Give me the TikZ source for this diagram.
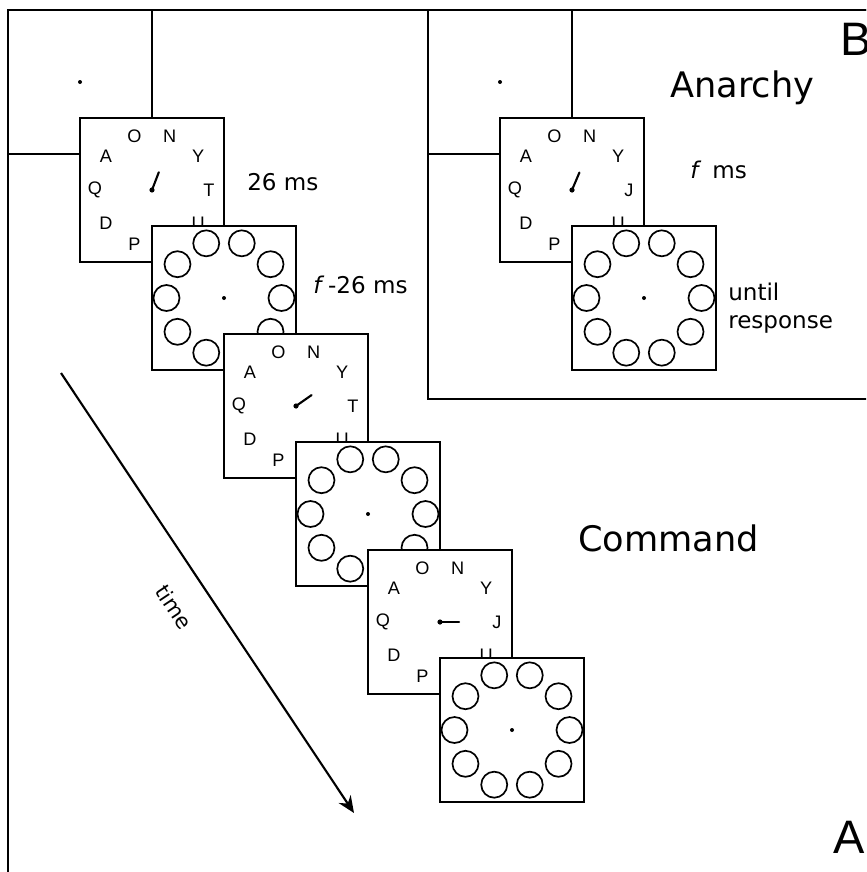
\documentclass[tikz,border=0pt]{standalone}
\usepackage{fontspec}
\setmainfont{DejaVu Sans}
\newfontfamily\clockfont{Liberation Sans}
\usetikzlibrary{arrows.meta,calc}
\tikzset{
  frame/.style={line width=1.5pt, fill=white},
  ring/.style={line width=1.2pt},
  hand/.style={line width=1.5pt, line cap=round},
  letter/.style={font=\clockfont\fontsize{12.9}{15}\selectfont, inner sep=0pt},
  lbl/.style={font=\fontsize{16.4}{19.5}\selectfont, inner sep=0pt},
  title/.style={font=\fontsize{25}{30}\selectfont, inner sep=0pt},
  panel/.style={font=\clockfont\fontsize{33.4}{40}\selectfont, inner sep=0pt},
}

\begin{document}
\begin{tikzpicture}[x=0.25mm, y=-0.25mm]
\useasboundingbox (0,0) rectangle (866,872);
\clip (0,0) rectangle (866,872);
% ---------------- outer frames ----------------
\draw[line width=1.5pt] (8,10) rectangle (880,890);
\draw[line width=1.5pt] (428,10) rectangle (880,399);
% ---------------- panel A: command ----------------
\draw[frame] (8,10) rectangle +(144,144);
\fill (80,82) circle (2);
\foreach \cx/\cy/\rl/\ha [count=\i] in {152/190/T/21, 296/406/T/55, 440/622/J/90}{
  \draw[frame] (\cx-72,\cy-72) rectangle +(144,144);
  \foreach \ch/\a [count=\k] in {O/-18,N/18,Y/54,\rl/90,U/126,P/198,D/234,Q/270,A/306}
    \node[letter] (c\i-\k) at ($(\cx,\cy)+(\a-90:57)$) {\ch};
  \draw[hand] (\cx,\cy) -- ++(\ha-90:19);
  \fill (\cx,\cy) circle (2.6);
  % mask frame
  \draw[frame] (\cx,\cy+36) rectangle +(144,144);
  \foreach \a in {-18,18,...,306}
    \draw[ring] ($(\cx+72,\cy+108)+(\a-90:57.5)$) circle (13);
  \fill (\cx+72,\cy+108) circle (2);
}
\node[lbl, anchor=base west] (t26) at (247,190) {26 ms};
\node[lbl, anchor=base west] (tf26) at (313,293) {\textit{f}\,-26 ms};
\node[title, anchor=base west] (tcom) at (578,551) {Command};
% time axis
\coordinate (t0) at (61,373);
\coordinate (t1) at (354,813);
\draw[line width=1.5pt, -{Stealth[length=4.2mm, width=3.6mm]}] (t0) -- (t1);
\node[lbl, font=\fontsize{15}{18}\selectfont, rotate=-56.3] (ttime) at (174,607) {time};
\node[panel, anchor=base west] (pA) at (833,853) {A};
% ---------------- panel B: anarchy ----------------
\begin{scope}
\draw[frame] (428,10) rectangle +(144,144);
\fill (500,82) circle (2);
\draw[frame] (500,118) rectangle +(144,144);
\foreach \ch/\a [count=\k] in {O/-18,N/18,Y/54,J/90,U/126,P/198,D/234,Q/270,A/306}
  \node[letter] (cB-\k) at ($(572,190)+(\a-90:57)$) {\ch};
\draw[hand] (572,190) -- ++(23-90:19);
\fill (572,190) circle (2.6);
\draw[frame] (572,226) rectangle +(144,144);
\foreach \a in {-18,18,...,306}
  \draw[ring] ($(644,298)+(\a-90:57.5)$) circle (13);
\fill (644,298) circle (2);
\end{scope}
\node[lbl, anchor=base west] (tfB) at (690,178) {\textit{f}~\,ms};
\node[lbl, anchor=base west] (tuntil) at (728,300) {until};
\node[lbl, anchor=base west] (tresp) at (728,328) {response};
\node[title, anchor=base west] (tana) at (670,97) {Anarchy};
\node[panel, anchor=base west] (pB) at (840,55) {B};
\end{tikzpicture}
\end{document}
